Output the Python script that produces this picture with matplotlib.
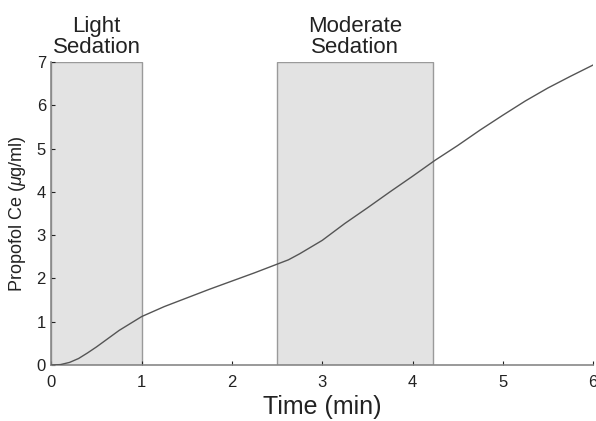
import matplotlib
matplotlib.use("Agg")
import matplotlib.pyplot as plt
from matplotlib.patches import Rectangle

plt.rcParams['font.family'] = ['Liberation Sans', 'DejaVu Sans']
plt.rcParams['mathtext.fontset'] = 'custom'
plt.rcParams['mathtext.it'] = 'Liberation Sans:italic'

time_min = [0, 0.1, 0.2, 0.3, 0.4, 0.5, 0.75, 1.0, 1.25, 1.5, 1.75, 2.0, 2.25, 2.5,
            2.625, 2.75, 3.0, 3.25, 3.5, 3.75, 4.0, 4.25, 4.5, 4.75, 5.0, 5.25, 5.5, 5.75, 6.0]
propofol_ce = [0, 0.01, 0.06, 0.15, 0.28, 0.42, 0.8, 1.12, 1.35, 1.55, 1.75, 1.94, 2.13, 2.33,
               2.43, 2.57, 2.88, 3.27, 3.63, 4.0, 4.36, 4.73, 5.07, 5.43, 5.77, 6.1, 6.4, 6.67, 6.93]

zone_labels = ["Light\nSedation", "Moderate\nSedation"]
zone_start = [0, 2.5]
zone_end = [1.0, 4.23]
zone_top = 7

fig = plt.figure(figsize=(5.96, 4.21), dpi=100)
ax = fig.add_axes([0.0864, 0.1330, 0.9086, 0.7197])

for lab, s, e in zip(zone_labels, zone_start, zone_end):
    ax.add_patch(Rectangle((s, 0), e - s, zone_top, facecolor='#e3e3e3',
                           edgecolor='#9a9a9a', linewidth=1.0, zorder=1))
    ax.text((s + e) / 2, zone_top + 0.09, lab, ha='center', va='bottom',
            fontsize=16, color='#222222', linespacing=1.0)

ax.plot(time_min, propofol_ce, color='#555555', linewidth=1.0, zorder=3)

ax.set_xlim(0, 6)
ax.set_ylim(0, 7)
ax.set_xticks(range(0, 7))
ax.set_yticks(range(0, 8))
ax.tick_params(direction='in', length=3, labelsize=12, colors='#222222', width=0.8)
ax.tick_params(axis='x', pad=7)
ax.tick_params(axis='y', pad=4)
for sp in ['top', 'right']:
    ax.spines[sp].set_visible(False)
for sp in ['left', 'bottom']:
    ax.spines[sp].set_color('#888888')
    ax.spines[sp].set_linewidth(1.2)

ax.set_xlabel('Time (min)', fontsize=18, color='#222222', labelpad=4)
ax.set_ylabel(r'Propofol Ce ($\mu$g/ml)', fontsize=13, color='#222222')
ax.yaxis.set_label_coords(-0.044, 0.5)

fig.savefig('out.png', dpi=100)
